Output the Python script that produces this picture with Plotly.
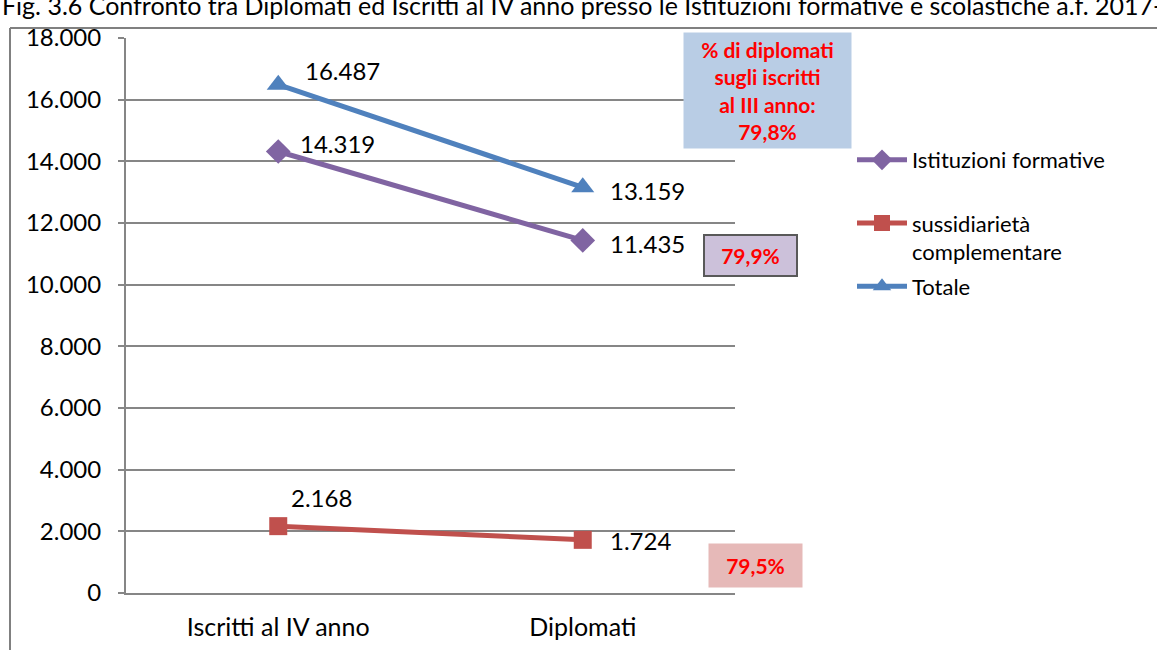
import plotly.graph_objects as go

categories = ["Iscritti al IV anno", "Diplomati"]
istituzioni = [14319, 11435]
sussidiarieta = [2168, 1724]
totale = [16487, 13159]
series_names = ["Istituzioni formative<br>&nbsp;", "sussidiarietà<br>complementare", "Totale"]
pct_totale = "% di diplomati<br>sugli iscritti<br>al III anno:<br>79,8%"
pct_istituzioni = "79,9%"
pct_sussidiarieta = "79,5%"
title_text = "Fig. 3.6 Confronto tra Diplomati ed Iscritti al IV anno presso le Istituzioni formative e scolastiche a.f. 2017-18"
y_ticks = [0, 2000, 4000, 6000, 8000, 10000, 12000, 14000, 16000, 18000]

FONT = "Lato"
W, H = 1157, 650
L, R, T, B = 126, 735, 38, 593
pw, ph = R - L, B - T

def px_x(x):
    return (x - L) / pw

def px_y(y):
    return 1 - (y - T) / ph

def fmt(v):
    return f"{v:,}".replace(",", ".")

fig = go.Figure()
fig.add_trace(go.Scatter(x=categories, y=istituzioni, name=series_names[0], mode="lines+markers",
                         legendgroup="a",
                         line=dict(color="#8064A2", width=5),
                         marker=dict(symbol="diamond", size=19, color="#8064A2")))
fig.add_trace(go.Scatter(x=categories, y=sussidiarieta, name=series_names[1], mode="lines+markers",
                         legendgroup="b",
                         line=dict(color="#C0504D", width=5),
                         marker=dict(symbol="square", size=18, color="#C0504D")))
fig.add_trace(go.Scatter(x=categories, y=totale, name=series_names[2], mode="lines+markers",
                         legendgroup="c",
                         line=dict(color="#4F81BD", width=5),
                         marker=dict(symbol="triangle-up", size=20, color="#4F81BD")))

annotations = []
label_offsets = {
    "ist": [(20, 8), (25, -3)],
    "sus": [(11, 29), (25, -1)],
    "tot": [(25, 14), (25, -3)],
}
for key, vals in (("ist", istituzioni), ("sus", sussidiarieta), ("tot", totale)):
    for i, (c, v) in enumerate(zip(categories, vals)):
        dx, dy = label_offsets[key][i]
        annotations.append(dict(x=c, y=v, xref="x", yref="y", text=fmt(v), showarrow=False,
                                xanchor="left", yanchor="middle", xshift=dx, yshift=dy,
                                font=dict(family=FONT, size=24, color="#000000")))

# percentage boxes
annotations.append(dict(x=px_x(683), y=px_y(32), xref="paper", yref="paper", xanchor="left", yanchor="top",
                        text="<b>" + pct_totale + "</b>", showarrow=False, width=167, height=115, borderpad=0,
                        bgcolor="#B9CDE5", align="center",
                        font=dict(family=FONT, size=21, color="#FF0000")))
annotations.append(dict(x=px_x(703), y=px_y(234), xref="paper", yref="paper", xanchor="left", yanchor="top",
                        text="<b>" + pct_istituzioni + "</b>", showarrow=False, width=91, height=39, borderpad=0,
                        bgcolor="#CCC1DA", bordercolor="#595959", borderwidth=2, align="center",
                        font=dict(family=FONT, size=21, color="#FF0000")))
annotations.append(dict(x=px_x(708), y=px_y(543), xref="paper", yref="paper", xanchor="left", yanchor="top",
                        text="<b>" + pct_sussidiarieta + "</b>", showarrow=False, width=93, height=43, borderpad=0,
                        bgcolor="#E6B9B8", align="center",
                        font=dict(family=FONT, size=21, color="#FF0000")))
# clipped title
annotations.append(dict(x=px_x(0), y=px_y(22), xref="paper", yref="paper", xanchor="left", yanchor="bottom",
                        text=title_text, showarrow=False,
                        font=dict(family=FONT, size=25, color="#000000")))

shapes = [
    dict(type="line", xref="paper", yref="paper", x0=px_x(10), x1=px_x(1160), y0=px_y(28), y1=px_y(28),
         line=dict(color="#808080", width=2)),
    dict(type="line", xref="paper", yref="paper", x0=px_x(10), x1=px_x(10), y0=px_y(28), y1=px_y(655),
         line=dict(color="#808080", width=2)),
]

fig.update_layout(
    width=W, height=H,
    margin=dict(l=L, r=W - R, t=T, b=H - B, pad=0, autoexpand=False),
    paper_bgcolor="white", plot_bgcolor="white",
    separators=",.",
    font=dict(family=FONT, size=20, color="#000000"),
    showlegend=True,
    legend=dict(x=px_x(852), y=px_y(139), xanchor="left", yanchor="top",
                font=dict(family=FONT, size=22, color="#000000"),
                bgcolor="rgba(0,0,0,0)", itemwidth=50, valign="top",
                tracegroupgap=3, traceorder="grouped"),
    annotations=annotations,
    shapes=shapes,
)
fig.update_xaxes(type="category", range=[-0.5, 1.5], showgrid=False, showline=True, automargin=False,
                 linecolor="#868686", linewidth=2, ticks="", zeroline=False,
                 ticklabelstandoff=11, tickfont=dict(family=FONT, size=25, color="#000000"))
fig.update_yaxes(range=[0, 18000], tickvals=y_ticks, tickformat=",d", showgrid=True, automargin=False,
                 gridcolor="#868686", gridwidth=2, showline=True, linecolor="#868686", linewidth=2,
                 ticks="outside", ticklen=6, tickcolor="#868686", tickwidth=2, zeroline=False,
                 ticklabelstandoff=12, tickfont=dict(family=FONT, size=24, color="#000000"))

fig.write_html("out.html", config={"displayModeBar": False},
               post_script="document.body.style.margin='0px';")
